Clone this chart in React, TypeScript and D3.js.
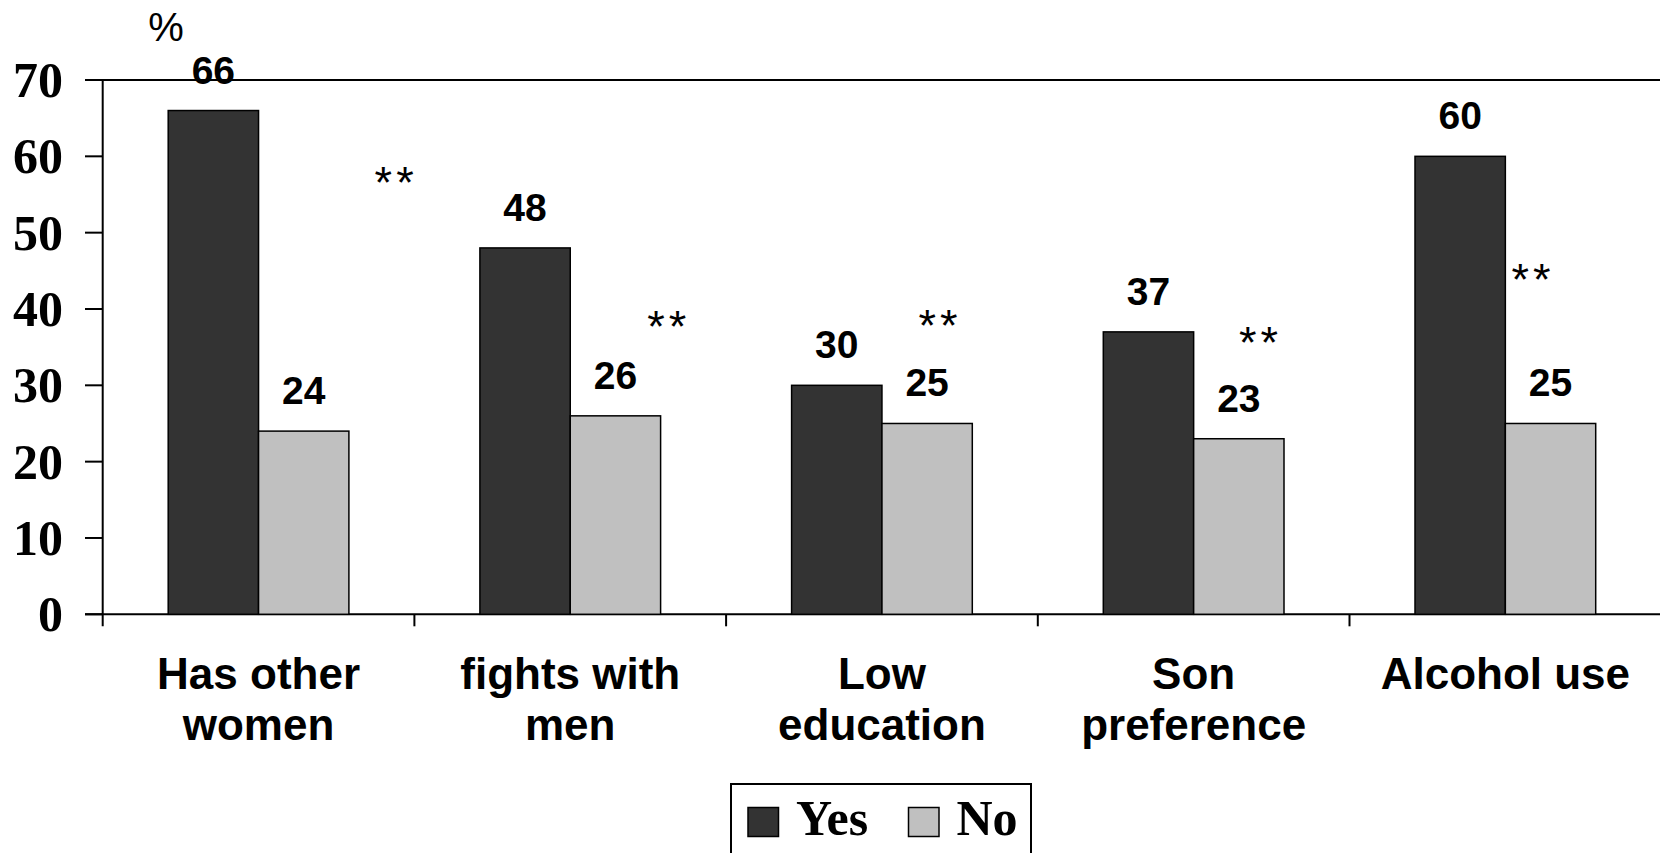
import React from "react";
import * as d3 from "d3";

const categories: string[][] = [
  ["Has other", "women"],
  ["fights with", "men"],
  ["Low", "education"],
  ["Son", "preference"],
  ["Alcohol use"],
];
const seriesNames = ["Yes", "No"];
const yesValues = [66, 48, 30, 37, 60];
const noValues = [24, 26, 25, 23, 25];
const yTicks = [0, 10, 20, 30, 40, 50, 60, 70];
// significance markers: value-level (y in %) and position within category band (fraction)
const sigLabel = "**";
const sigY = [57.4, 38.5, 38.7, 36.4, 44.7];
const sigXFrac = [0.935, 0.81, 0.68, 0.708, 0.582];

const W = 1660;
const H = 853;
const SANS = '"Liberation Sans", Arial, Helvetica, sans-serif';
const SERIF = '"Liberation Serif", "Times New Roman", Times, serif';
const colors = ["#333333", "#c0c0c0"];

export default function App() {
  const left = 102.7;
  const bandW = 311.7;
  const top = 80;
  const bottom = 614.3;
  const keys = categories.map((_, i) => String(i));
  const x0 = d3
    .scaleBand<string>()
    .domain(keys)
    .range([left, left + bandW * keys.length])
    .paddingInner(0)
    .paddingOuter(0);
  const x1 = d3
    .scaleBand<string>()
    .domain(seriesNames)
    .range([65.5, x0.bandwidth() - 65.5])
    .padding(0);
  const y = d3.scaleLinear().domain([0, 70]).range([bottom, top]);
  const series = [yesValues, noValues];
  const sigFs = 45;

  return (
    <svg
      width={W}
      height={H}
      style={{ position: "absolute", left: 0, top: 0, background: "#fff" }}
    >
      {/* plot area border (top) */}
      <line x1={85} x2={W} y1={y(70)} y2={y(70)} stroke="#000" strokeWidth={2} />
      {/* y axis */}
      <line x1={left} x2={left} y1={y(70)} y2={bottom + 12} stroke="#000" strokeWidth={2} />
      {/* x axis */}
      <line x1={85} x2={W} y1={bottom} y2={bottom} stroke="#000" strokeWidth={2} />
      {yTicks.map((t) => (
        <g key={t}>
          <line x1={85} x2={left} y1={y(t)} y2={y(t)} stroke="#000" strokeWidth={2} />
          <text
            x={63}
            y={y(t) + 17}
            textAnchor="end"
            fontFamily={SERIF}
            fontWeight="bold"
            fontSize={50}
          >
            {t}
          </text>
        </g>
      ))}
      {keys.map((k) => (
        <line
          key={"xt" + k}
          x1={x0(k)! + bandW}
          x2={x0(k)! + bandW}
          y1={bottom}
          y2={bottom + 12}
          stroke="#000"
          strokeWidth={2}
        />
      ))}
      {/* bars */}
      {keys.map((k, i) => (
        <g key={"g" + k} transform={`translate(${x0(k)},0)`}>
          {seriesNames.map((s, j) => {
            const v = series[j][i];
            return (
              <g key={s}>
                <rect
                  x={x1(s)}
                  y={y(v)}
                  width={x1.bandwidth()}
                  height={bottom - y(v)}
                  fill={colors[j]}
                  stroke="#000"
                  strokeWidth={1.5}
                />
                <text
                  x={x1(s)! + x1.bandwidth() / 2}
                  y={y(v) - 27}
                  textAnchor="middle"
                  fontFamily={SANS}
                  fontWeight="bold"
                  fontSize={39}
                >
                  {v}
                </text>
              </g>
            );
          })}
          <text
            x={bandW * sigXFrac[i] + 2}
            y={y(sigY[i]) + 0.48 * sigFs}
            textAnchor="middle"
            fontFamily={SANS}
            fontSize={sigFs}
            letterSpacing={4}
          >
            {sigLabel}
          </text>
          {categories[i].map((line, li) => (
            <text
              key={li}
              x={bandW / 2}
              y={689 + li * 51}
              textAnchor="middle"
              fontFamily={SANS}
              fontWeight="bold"
              fontSize={44}
            >
              {line}
            </text>
          ))}
        </g>
      ))}
      {/* % unit label */}
      <text x={166} y={41} textAnchor="middle" fontFamily={SANS} fontSize={40}>
        %
      </text>
      {/* legend */}
      <rect x={731} y={784} width={300} height={100} fill="#fff" stroke="#000" strokeWidth={2} />
      {seriesNames.map((s, j) => {
        const sx = [748, 908.5][j];
        return (
          <g key={"lg" + s}>
            <rect x={sx} y={807.5} width={30.5} height={29} fill={colors[j]} stroke="#000" strokeWidth={1.5} />
            <text x={sx + 48} y={835} fontFamily={SERIF} fontWeight="bold" fontSize={50}>
              {s}
            </text>
          </g>
        );
      })}
    </svg>
  );
}
